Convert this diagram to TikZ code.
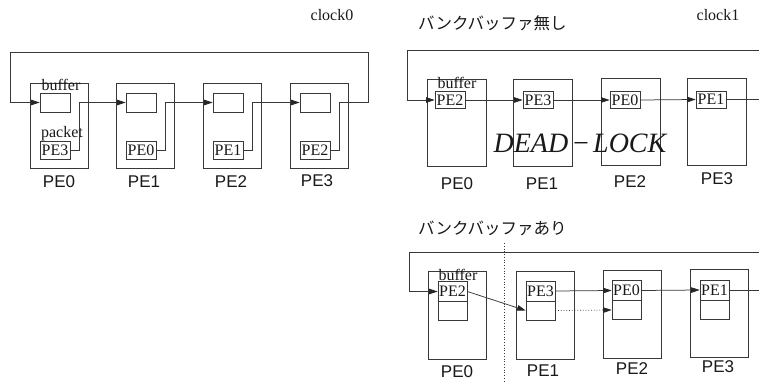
\documentclass[tikz,border=0pt]{standalone}
\usepackage{fontspec}
\setmainfont{Liberation Serif}
\setsansfont{Liberation Sans}
\newfontfamily\jpfont{Noto Sans CJK JP}
\usetikzlibrary{arrows.meta}
\definecolor{linec}{gray}{0.22}
\definecolor{txtc}{gray}{0.1}
\tikzset{
  pebox/.style={draw=linec, line width=0.75pt, minimum width=58pt, minimum height=85pt, inner sep=0pt},
  bufbox/.style={draw=linec, line width=0.75pt, minimum width=30pt, minimum height=18pt, inner sep=0pt, text=txtc, font=\fontsize{16}{16}\selectfont},
  pelab/.style={text=txtc, font=\sffamily\fontsize{17}{17}\selectfont},
  serlab/.style={text=txtc, inner sep=0pt, font=\fontsize{16}{16}\selectfont},
  jplab/.style={text=txtc, inner sep=0pt, anchor=west, font=\jpfont\fontsize{16.5}{16.5}\selectfont},
  conn/.style={draw=linec, line width=0.75pt},
  arr/.style={conn, -{Triangle[length=8.5pt,width=5.5pt,color=black!85,fill=black!85]}}
}
\begin{document}
\begin{tikzpicture}[x=1pt,y=-1pt]
\useasboundingbox[fill=white] (0,0) rectangle (759,382);

% ---------------- Panel A : clock0 ----------------
\node[serlab] (clk0) at (332,15) {clock0};
\node[pebox] (A0) at (59,125.5) {};
\node[pebox] (A1) at (145,125.5) {};
\node[pebox] (A2) at (232,125.5) {};
\node[pebox] (A3) at (319,125.5) {};
\node[bufbox, minimum height=19pt] (bA0) at (55,102.5) {};
\node[bufbox, minimum height=19pt] (bA1) at (141,102.5) {};
\node[bufbox, minimum height=19pt] (bA2) at (228,102.5) {};
\node[bufbox, minimum height=19pt] (bA3) at (315,102.5) {};
\node[bufbox] (pA0) at (55,150) {PE3};
\node[bufbox] (pA1) at (141,150) {PE0};
\node[bufbox] (pA2) at (228,150) {PE1};
\node[bufbox] (pA3) at (315,150) {PE2};
\node[serlab] (bufA) at (61,85) {buffer};
\node[serlab] (pktA) at (62,134) {packet};
\node[pelab] (lA0) at (59,182) {PE0};
\node[pelab] (lA1) at (144,182) {PE1};
\node[pelab] (lA2) at (231,182) {PE2};
\node[pelab] (lA3) at (317,181) {PE3};
\coordinate (ArB) at (368,102.5);
\coordinate (AL) at (10,52);
\draw[arr] (pA0.east) -- ++(9,0) |- (bA1.west);
\draw[arr] (pA1.east) -- ++(9,0) |- (bA2.west);
\draw[arr] (pA2.east) -- ++(9,0) |- (bA3.west);
\draw[arr] (pA3.east) -- ++(9,0) |- (ArB) |- (AL) |- (bA0.west);

% ---------------- Panel B : clock1, no bank buffer ----------------
\node[jplab] (jpB) at (418,23) {バンクバッファ無し};
\node[serlab] (clk1) at (718,15) {clock1};
\node[pebox, minimum width=59pt, minimum height=87pt] (B0) at (456.5,122.5) {};
\node[pebox, minimum width=59pt, minimum height=87pt] (B1) at (542.5,122.5) {};
\node[pebox, minimum width=59pt, minimum height=87pt] (B2) at (630.5,122) {};
\node[pebox, minimum width=59pt, minimum height=87pt] (B3) at (716.5,121.5) {};
\node[bufbox, minimum height=17pt] (bB0) at (450,100) {PE2};
\node[bufbox, minimum height=17pt] (bB1) at (538,100) {PE3};
\node[bufbox, minimum height=17pt] (bB2) at (625,100) {PE0};
\node[bufbox, minimum height=17pt] (bB3) at (711,99.5) {PE1};
\node[serlab] (bufB) at (457,82.5) {buffer};
\node[text=txtc, font=\itshape\fontsize{28}{28}\selectfont] (dl) at (580,143) {DEAD\kern3pt−\kern3pt LOCK};
\node[pelab] (lB0) at (457,184) {PE0};
\node[pelab] (lB1) at (542,184) {PE1};
\node[pelab] (lB2) at (630,182) {PE2};
\node[pelab] (lB3) at (717,179) {PE3};
\coordinate (BTR) at (760,50);
\coordinate (BTL) at (407,50);
\coordinate (BOut) at (760,99.5);
\draw[arr] (BTR) -- (BTL) |- (bB0.west);
\draw[arr] (bB0.east) -- (bB1.west);
\draw[arr] (bB1.east) -- (bB2.west);
\draw[arr] (bB2.east) -- (bB3.west);
\draw[conn] (bB3.east) -- (BOut);

% ---------------- Panel C : with bank buffer ----------------
\node[jplab] (jpC) at (418,228) {バンクバッファあり};
\node[pebox, minimum height=88pt] (C0) at (457,315.5) {};
\node[pebox, minimum height=88pt] (C1) at (545,315) {};
\node[pebox, minimum height=88pt] (C2) at (632,314) {};
\node[pebox, minimum height=88pt] (C3) at (719,313) {};
\node[bufbox, minimum width=29pt, minimum height=20pt] (cT0) at (452.5,291.5) {PE2};
\node[bufbox, minimum width=29pt, minimum height=19pt] (cB0) at (452.5,311) {};
\node[bufbox, minimum width=29pt, minimum height=20pt] (cT1) at (540.5,291) {PE3};
\node[bufbox, minimum width=29pt, minimum height=19pt] (cB1) at (540.5,310.5) {};
\node[bufbox, minimum width=29pt, minimum height=20pt] (cT2) at (626.5,290.5) {PE0};
\node[bufbox, minimum width=29pt, minimum height=19pt] (cB2) at (626.5,310) {};
\node[bufbox, minimum width=29pt, minimum height=20pt] (cT3) at (714.5,290) {PE1};
\node[bufbox, minimum width=29pt, minimum height=19pt] (cB3) at (714.5,309.5) {};
\node[serlab] (bufC) at (458,274.5) {buffer};
\node[pelab] (lC0) at (457,372) {PE0};
\node[pelab] (lC1) at (543,371) {PE1};
\node[pelab] (lC2) at (632,369) {PE2};
\node[pelab] (lC3) at (718,367) {PE3};
\coordinate (CTR) at (760,252);
\coordinate (CTL) at (409,252);
\coordinate (COut) at (760,290);
\coordinate (Vt) at (504,243);
\coordinate (Vb) at (504,382);
\draw[arr] (CTR) -- (CTL) |- (cT0.west);
\draw[arr] (cT0.east) -- (cB1.west);
\draw[arr] (cT1.east) -- (cT2.west);
\draw[arr, dotted] (cB1.east) -- (cB2.west);
\draw[arr] (cT2.east) -- (cT3.west);
\draw[conn] (cT3.east) -- (COut);
\draw[conn, dotted] (Vt) -- (Vb);
\end{tikzpicture}
\end{document}
